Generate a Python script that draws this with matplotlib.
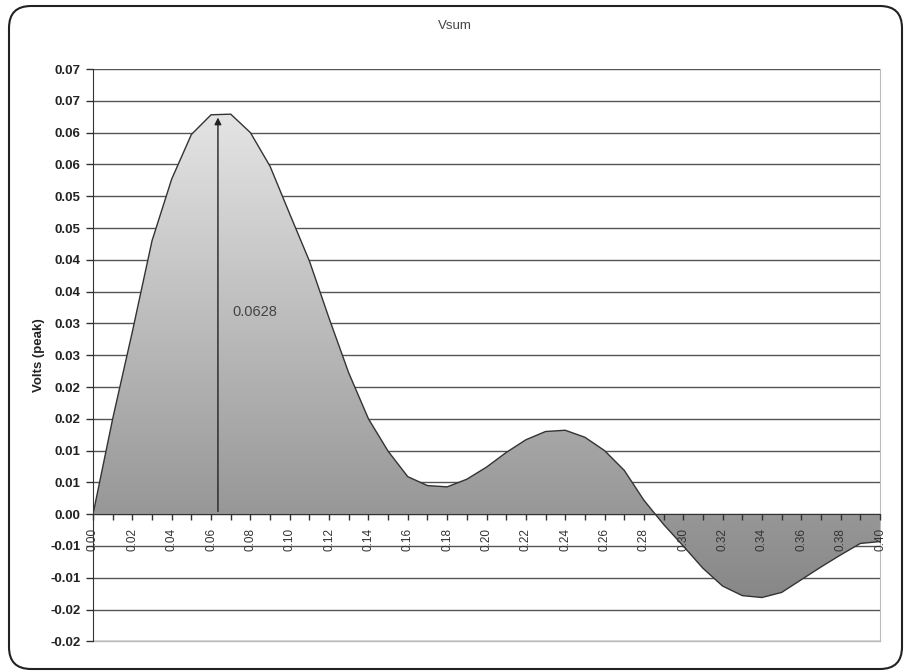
import numpy as np
import matplotlib
matplotlib.use("Agg")
import matplotlib.pyplot as plt
from matplotlib.patches import FancyBboxPatch, Polygon
from matplotlib.colors import LinearSegmentedColormap

plt.rcParams['font.family'] = ['Liberation Sans', 'DejaVu Sans']

# data
time_s = [0.00, 0.01, 0.02, 0.03, 0.04, 0.05, 0.06, 0.07, 0.08, 0.09,
          0.10, 0.11, 0.12, 0.13, 0.14, 0.15, 0.16, 0.17, 0.18, 0.19,
          0.20, 0.21, 0.22, 0.23, 0.24, 0.25, 0.26, 0.27, 0.28, 0.29,
          0.30, 0.31, 0.32, 0.33, 0.34, 0.35, 0.36, 0.37, 0.38, 0.39, 0.40]
vsum = [0.0, 0.0150, 0.0287, 0.0430, 0.0527, 0.0597, 0.0628, 0.0629, 0.0600, 0.0547,
        0.0472, 0.0398, 0.0308, 0.0222, 0.0150, 0.0099, 0.0059, 0.0045, 0.0043, 0.0055,
        0.0074, 0.0097, 0.0117, 0.0130, 0.0132, 0.0121, 0.0100, 0.0069, 0.0022, -0.0016,
        -0.0050, -0.0085, -0.0113, -0.0128, -0.0131, -0.0123, -0.0103, -0.0083, -0.0064, -0.0046,
        -0.0043]
ytick_vals = [-0.020, -0.015, -0.010, -0.005, 0.000, 0.005, 0.010, 0.015, 0.020, 0.025,
              0.030, 0.035, 0.040, 0.045, 0.050, 0.055, 0.060, 0.065, 0.070]
ytick_labels = ['-0.02', '-0.02', '-0.01', '-0.01', '0.00', '0.01', '0.01', '0.02', '0.02', '0.03',
                '0.03', '0.04', '0.04', '0.05', '0.05', '0.06', '0.06', '0.07', '0.07']
peak_t = 0.0635
peak_v = 0.0628

fig = plt.figure(figsize=(9.06, 6.71), dpi=100)
ax = fig.add_axes([93 / 906, 1 - 641.4 / 671, (880 - 93) / 906, (641.4 - 69) / 671])

x = np.array(time_s)
y = np.array(vsum)

# gradient fill clipped to the area under the curve
cmap = LinearSegmentedColormap.from_list('g', ['#878787', '#e4e4e4'])
grad = np.linspace(0, 1, 256).reshape(-1, 1)
im = ax.imshow(grad, aspect='auto', cmap=cmap, origin='lower',
               extent=[0, 0.40, y.min(), y.max()], zorder=2)
poly = Polygon(np.column_stack([np.r_[x, x[::-1]], np.r_[y, np.zeros_like(y)]]),
               closed=True, facecolor='none', edgecolor='none')
ax.add_patch(poly)
im.set_clip_path(poly)
ax.plot(x, y, color='#333333', lw=1.0, zorder=3)

ax.set_xlim(0, 0.40)
ax.set_ylim(-0.02, 0.07)

# grid lines
for v in ytick_vals:
    ax.axhline(v, color='#555555', lw=1.0, zorder=1)

ax.set_yticks(ytick_vals)
ax.set_yticklabels(ytick_labels)
ax.tick_params(axis='y', direction='out', length=5, width=1, color='#333333', pad=4,
               labelsize=9.5, labelcolor='#222222')
for lab in ax.get_yticklabels():
    lab.set_fontweight('bold')

ax.set_xticks(time_s)
ax.set_xticklabels([f'{t:.2f}' if i % 2 == 0 else '' for i, t in enumerate(time_s)])
ax.tick_params(axis='x', direction='out', length=4, width=1, color='#333333', pad=6,
               labelrotation=90, labelsize=8.5, labelcolor='#333333')
ax.xaxis.set_zorder(6)

ax.spines['bottom'].set_position(('data', 0))
ax.spines['bottom'].set_color('#333333')
ax.spines['bottom'].set_zorder(6)
ax.spines['left'].set_color('#333333')
ax.spines['top'].set_visible(False)
ax.spines['right'].set_color('#bbbbbb')
ax.plot([0, 0.40], [-0.02, -0.02], color='#bbbbbb', lw=1.0, zorder=1, clip_on=False)
ax.set_facecolor('white')

ax.set_ylabel('Volts (peak)', fontsize=9.5, fontweight='bold', color='#222222', labelpad=4)

# peak annotation
ax.annotate('', xy=(peak_t, peak_v), xytext=(peak_t, 0),
            arrowprops=dict(arrowstyle='-|>', color='#222222', lw=1.0, mutation_scale=10),
            zorder=5)
ax.text(0.0821, 0.0318, '0.0628', fontsize=10.5, color='#444444', ha='center', va='center', zorder=5)

fig.text(455 / 906, 1 - 26 / 671, 'Vsum', fontsize=9.5, color='#444444', ha='center', va='center')

# rounded chart border
border = FancyBboxPatch((9, 671 - 669), 893, 663, boxstyle='round,pad=0,rounding_size=22',
                        transform=None, facecolor='none', edgecolor='#222222', lw=1.5)
fig.add_artist(border)

fig.savefig('out.png', dpi=100, facecolor='white')
